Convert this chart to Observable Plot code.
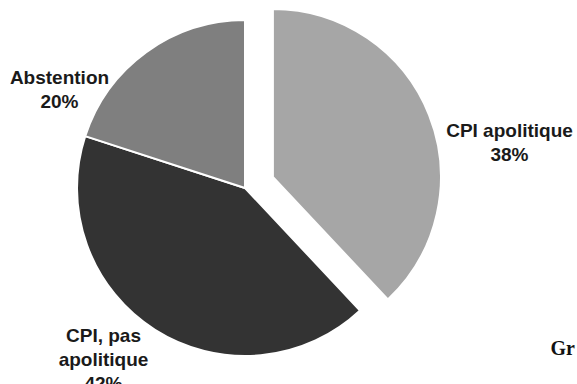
<!DOCTYPE html>
<html>
<head>
<meta charset="utf-8">
<script src="https://cdn.jsdelivr.net/npm/d3@7"></script>
<script src="https://cdn.jsdelivr.net/npm/@observablehq/plot@0.6"></script>
<style>
  html, body { margin: 0; padding: 0; background: #fff; }
  #chart { width: 577px; height: 384px; overflow: hidden; }
</style>
</head>
<body>
<div id="chart"></div>
<script>
// Vote shares (%), in clockwise order starting at 12 o'clock
const categories = ["CPI apolitique", "CPI, pas apolitique", "Abstention"];
const shares = [38, 42, 20];
// How each category name breaks over lines in its label
const labelNames = ["CPI apolitique", "CPI, pas\napolitique", "Abstention"];
const note = "Gr";

// Styling and layout (pixels)
const palette = ["#a6a6a6", "#333333", "#7f7f7f"];
const pie = {cx: 245, cy: 188, r: 168, explodeIndex: 0, explode: 30};
const labelAnchors = [[509, 141], [103, 357.7], [59, 87.8]];

const slices = categories.map((name, i) => ({
  name,
  value: shares[i],
  label: `${labelNames[i]}\n${shares[i]}%`,
  color: palette[i],
  lx: labelAnchors[i][0],
  ly: labelAnchors[i][1]
}));

// Pie slices drawn with d3.pie / d3.arc, positioned through Plot's x and y scales
function pieSlices(data) {
  return (index, scales) => {
    const cx = scales.x(pie.cx), cy = scales.y(pie.cy);
    const r = scales.x(pie.cx + pie.r) - cx;
    const arcs = d3.pie().sort(null).value(d => d.value)(data);
    const arc = d3.arc().innerRadius(0).outerRadius(r);
    const g = d3.create("svg:g").attr("transform", `translate(${cx},${cy})`);
    g.selectAll("path")
      .data(arcs)
      .join("path")
        .attr("d", arc)
        .attr("fill", d => d.data.color)
        .attr("stroke", "#fff")
        .attr("stroke-width", 2)
        .attr("stroke-linejoin", "miter")
        .attr("transform", (d, i) => {
          if (i !== pie.explodeIndex) return null;
          const a = (d.startAngle + d.endAngle) / 2;
          return `translate(${Math.sin(a) * pie.explode},${-Math.cos(a) * pie.explode})`;
        });
    return g.node();
  };
}

const chart = Plot.plot({
  width: 577,
  height: 384,
  margin: 0,
  style: {background: "#fff"},
  x: {domain: [0, 577], range: [0, 577], axis: null},
  y: {domain: [0, 384], range: [0, 384], axis: null},
  marks: [
    pieSlices(slices),
    Plot.text(slices, {
      x: "lx",
      y: "ly",
      text: "label",
      textAnchor: "middle",
      lineAnchor: "middle",
      lineHeight: 1.25,
      fontSize: 19,
      fontWeight: "bold",
      fontFamily: "'Liberation Sans', Arial, sans-serif",
      fill: "#1a1a1a"
    }),
    Plot.text([note], {
      x: () => 550,
      y: () => 347.6,
      text: d => d,
      textAnchor: "start",
      lineAnchor: "middle",
      fontSize: 20,
      fontWeight: "bold",
      fontFamily: "'Liberation Serif', 'Times New Roman', serif",
      fill: "#111"
    })
  ]
});

document.getElementById("chart").appendChild(chart);
</script>
</body>
</html>
